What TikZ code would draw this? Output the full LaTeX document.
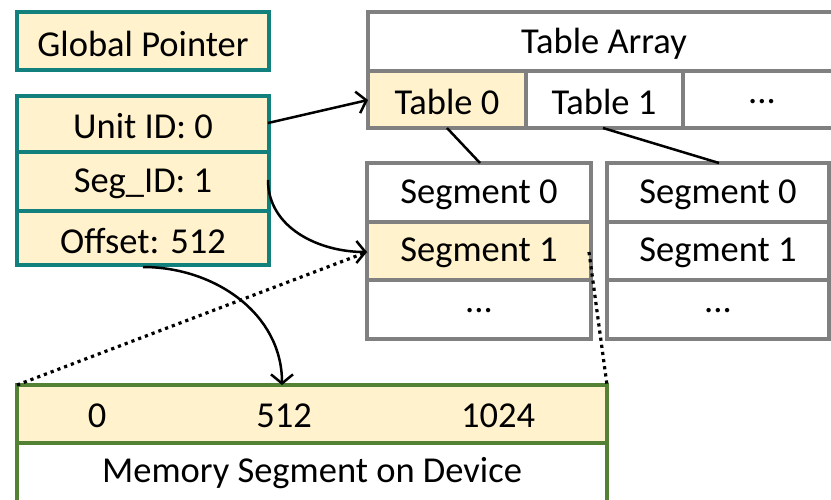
\documentclass[tikz,border=0pt]{standalone}
\usepackage{fontspec}
\setmainfont{Carlito}
\usetikzlibrary{arrows.meta}
\definecolor{tealb}{RGB}{18,128,124}
\definecolor{grayb}{RGB}{128,128,128}
\definecolor{greenb}{RGB}{84,130,53}
\definecolor{cellfill}{RGB}{255,242,204}
\tikzset{
  txt/.style={font=\fontsize{36.5}{42}\selectfont, inner sep=0pt, anchor=center, yshift=-2pt},
  pbox/.style={draw=tealb, line width=4pt, fill=cellfill},
  gbox/.style={draw=grayb, line width=4pt},
  mbox/.style={draw=greenb, line width=4pt},
  conn/.style={line width=2.5pt, -{Straight Barb[length=9pt,width=22pt]}},
  plain/.style={line width=2.5pt},
  dotl/.style={line width=3.2pt, dash pattern=on 3.2pt off 4pt},
}
\begin{document}
\begin{tikzpicture}[x=1pt,y=-1pt]
\useasboundingbox (0,0) rectangle (831,499);
\clip (0,0) rectangle (831,499);
% Global pointer
\draw[pbox] (17,12) rectangle (269,70);
\node[txt] (gp) at (143,42) {Global Pointer};
% pointer stack
\draw[pbox] (17,96) rectangle (269,265);
\draw[draw=tealb, line width=4pt] (17,152) -- (269,152);
\draw[draw=tealb, line width=4pt] (17,211) -- (269,211);
\node[txt] (unit) at (143,124) {Unit ID: 0};
\node[txt] (seg) at (143,182) {Seg\_ID: 1};
\node[txt] (off) at (143,239) {Offset: 512};
\coordinate (unitR) at (268,123);
\coordinate (segR) at (268,180);
\coordinate (offB) at (143,267);
% Table array
\fill[cellfill] (368,71) rectangle (526,128);
\draw[gbox] (368,12) rectangle (845,128);
\draw[gbox] (368,71) -- (845,71);
\draw[gbox] (526,71) -- (526,128);
\draw[gbox] (683,71) -- (683,128);
\node[txt] (ta) at (604,42) {Table Array};
\node[txt] (t0) at (447,100) {Table 0};
\node[txt] (t1) at (604,100) {Table 1};
\node[txt] (tdots) at (762,100) {...};
\coordinate (t0L) at (368,100);
\coordinate (t0B) at (447,128);
\coordinate (t1B) at (603,128);
% Segment tables
\fill[cellfill] (367,222) rectangle (591,280);
\draw[gbox] (367,163) rectangle (591,339);
\draw[gbox] (367,222) -- (591,222);
\draw[gbox] (367,280) -- (591,280);
\draw[gbox] (607,163) rectangle (829,339);
\draw[gbox] (607,222) -- (829,222);
\draw[gbox] (607,280) -- (829,280);
\node[txt] (s00) at (479,193) {Segment 0};
\node[txt] (s01) at (479,251) {Segment 1};
\node[txt] (s0d) at (479,309) {...};
\node[txt] (s10) at (718,193) {Segment 0};
\node[txt] (s11) at (718,251) {Segment 1};
\node[txt] (s1d) at (718,309) {...};
\coordinate (sAT) at (480,163);
\coordinate (sBT) at (719,163);
\coordinate (s1L) at (367,252);
\coordinate (s1R) at (589,252);
% Memory
\fill[cellfill] (17,385) rectangle (607,443);
\draw[mbox] (17,510) -- (17,385) -- (607,385) -- (607,510);
\draw[mbox] (17,443) -- (607,443);
\node[txt] (m0) at (97,414) {0};
\node[txt] (m512) at (284,414) {512};
\node[txt] (m1024) at (498,414) {1024};
\node[txt] (mem) at (312,471) {Memory Segment on Device};
\coordinate (memTL) at (17,385);
\coordinate (memTR) at (607,385);
\coordinate (memA) at (282,385);
% connectors
\draw[conn] (unitR) -- (t0L);
\draw[conn] (segR) to[out=-90,in=180] (s1L);
\draw[conn] (offB) to[out=0,in=90] (memA);
\draw[plain] (t0B) -- (sAT);
\draw[plain] (t1B) -- (sBT);
\draw[dotl] (memTL) -- (s1L);
\draw[dotl] (s1R) -- (memTR);
\end{tikzpicture}
\end{document}
